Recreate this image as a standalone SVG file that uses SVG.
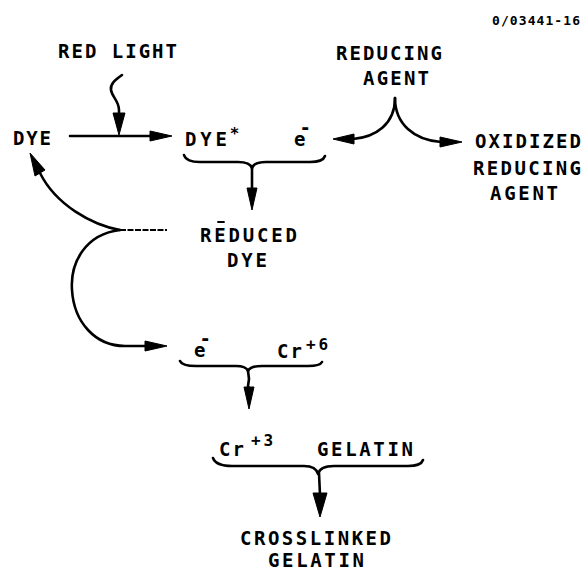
<svg xmlns="http://www.w3.org/2000/svg" width="583" height="570" viewBox="0 0 583 570">
  <style>
    .t { font-family: "DejaVu Sans Mono", "Liberation Mono", monospace; font-weight: bold; font-size: 19px; fill: #000; }
    .s { font-size: 16px; }
    .id { font-size: 13px; }
    .ln { fill: none; stroke: #000; stroke-width: 2.6; stroke-linecap: round; stroke-linejoin: round; }
    .thin { fill: none; stroke: #000; stroke-width: 1.8; stroke-dasharray: 6 1.5; }
    .ah { fill: #000; stroke: #000; stroke-width: 1; stroke-linejoin: round; }
  </style>
  <rect width="583" height="570" fill="#fff"/>

  <!-- drawing number -->
  <text class="t id" x="492" y="25" textLength="88" lengthAdjust="spacing">0/03441-16</text>

  <g id="red-light">
    <text class="t" x="58" y="58" textLength="119" lengthAdjust="spacing">RED LIGHT</text>
  </g>

  <g id="reducing-agent">
    <text class="t" x="336" y="60" textLength="106" lengthAdjust="spacing">REDUCING</text>
    <text class="t" x="363" y="85" textLength="66" lengthAdjust="spacing">AGENT</text>
  </g>

  <g id="dye">
    <text class="t" x="13" y="145" textLength="38" lengthAdjust="spacing">DYE</text>
  </g>

  <g id="excited-dye">
    <text class="t" x="185" y="146"><tspan textLength="42" lengthAdjust="spacing">DYE</tspan><tspan class="s" dx="-1" dy="-7">*</tspan></text>
    <text class="t" x="294" y="146">e<tspan dx="-6" dy="-12">-</tspan></text>
  </g>

  <g id="oxidized-reducing-agent">
    <text class="t" x="475" y="148" textLength="106" lengthAdjust="spacing">OXIDIZED</text>
    <text class="t" x="473" y="175" textLength="108" lengthAdjust="spacing">REDUCING</text>
    <text class="t" x="490" y="200" textLength="68" lengthAdjust="spacing">AGENT</text>
  </g>

  <g id="reduced-dye">
    <text class="t" x="200" y="242" textLength="97" lengthAdjust="spacing">REDUCED</text>
    <line class="ln" x1="218" y1="222" x2="224" y2="222" style="stroke-width:1.8"/>
    <text class="t" x="227" y="267" textLength="40" lengthAdjust="spacing">DYE</text>
  </g>

  <g id="electron-chromium6">
    <text class="t" x="194" y="357">e<tspan dx="-6" dy="-12">-</tspan></text>
    <text class="t" x="277" y="358"><tspan textLength="25" lengthAdjust="spacing">Cr</tspan><tspan class="s" dx="2" dy="-8" textLength="22" lengthAdjust="spacing">+6</tspan></text>
  </g>

  <g id="chromium3-gelatin">
    <text class="t" x="219" y="456"><tspan textLength="25" lengthAdjust="spacing">Cr</tspan><tspan class="s" dx="5" dy="-10" textLength="22" lengthAdjust="spacing">+3</tspan></text>
    <text class="t" x="317" y="456" textLength="96" lengthAdjust="spacing">GELATIN</text>
  </g>

  <g id="crosslinked-gelatin">
    <text class="t" x="240" y="545" textLength="151" lengthAdjust="spacing">CROSSLINKED</text>
    <text class="t" x="268" y="567" textLength="96" lengthAdjust="spacing">GELATIN</text>
  </g>

  <g id="connectors">
    <!-- DYE to excited dye, with the light input -->
    <line class="ln" x1="70" y1="136" x2="152" y2="136"/>
    <polygon class="ah" points="150,131 172,136 150,141"/>
    <path class="ln" d="M122,75 C115,80 110,84 111,90 C112,97 119,101 119,110 L119,114"/>
    <polygon class="ah" points="113,113 125,113 119,135"/>

    <!-- reducing agent fork -->
    <path class="ln" d="M395,98 C395,124 376,137 353,139"/>
    <polygon class="ah" points="354,134 333,139 354,144"/>
    <path class="ln" d="M395,98 C395,124 414,140 441,142"/>
    <polygon class="ah" points="440,137 462,142 440,147"/>

    <!-- brace: excited dye + electron -->
    <path class="ln" d="M184,155 Q186,162 200,162 L238,162 Q250,162 252,168 Q254,162 266,162 L310,162 Q323,162 325,156"/>
    <line class="ln" x1="252" y1="167" x2="252" y2="190"/>
    <polygon class="ah" points="247,188 257,188 252,210"/>

    <!-- reduced dye regenerates dye and passes the electron on -->
    <path class="ln" d="M120,230 C92,225 56,205 40,173"/>
    <polygon class="ah" points="45,170 30,153 35,176"/>
    <line class="thin" x1="120" y1="230" x2="167" y2="230"/>
    <path class="ln" d="M120,230 C86,234 70,262 72,290 C74,322 95,346 125,346 L147,346"/>
    <polygon class="ah" points="145,341 167,346 145,351"/>

    <!-- brace: electron + Cr+6 -->
    <path class="ln" d="M180,361 Q182,366 196,366 L236,366 Q246,366 248,371 Q250,366 262,366 L308,366 Q320,366 322,362"/>
    <path class="ln" d="M248,371 L249,379 L248,386 L249,389"/>
    <polygon class="ah" points="244,387 254,387 249,409"/>

    <!-- brace: Cr+3 + gelatin -->
    <path class="ln" d="M213,458 Q216,466 232,466 L304,466 Q316,466 318,474 Q320,466 334,466 L408,466 Q421,466 423,460"/>
    <line class="ln" x1="319" y1="473" x2="320" y2="495"/>
    <polygon class="ah" points="313,493 327,493 320,517"/>
  </g>
</svg>
